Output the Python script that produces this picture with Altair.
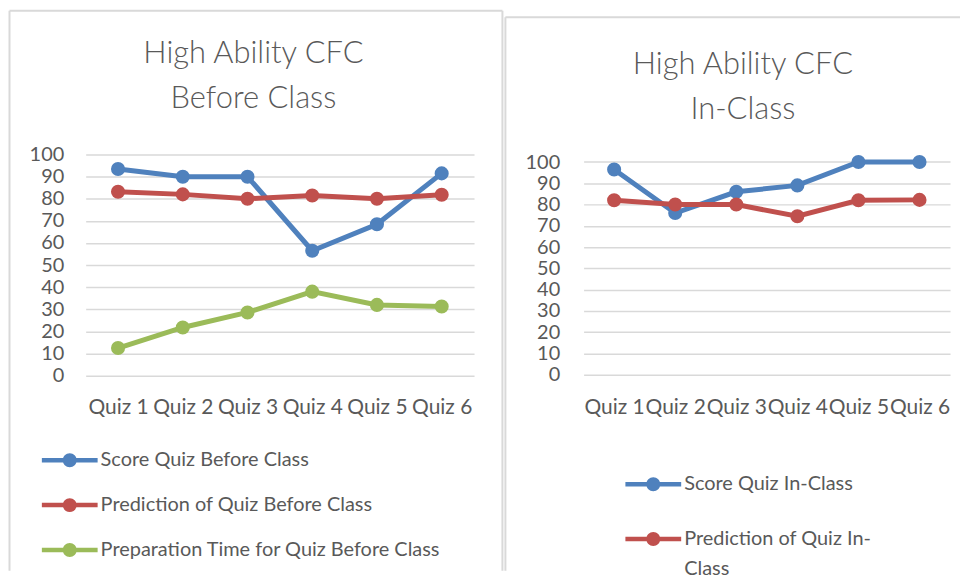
import altair as alt
import pandas as pd

quizzes = ["Quiz 1", "Quiz 2", "Quiz 3", "Quiz 4", "Quiz 5", "Quiz 6"]

before_series = [
    "Score Quiz Before Class",
    "Prediction of Quiz Before Class",
    "Preparation Time for Quiz Before Class",
]
score_before = [93.5, 90.0, 90.0, 56.5, 68.5, 91.5]
pred_before = [83.2, 82.0, 80.0, 81.5, 80.0, 81.8]
prep_before = [12.5, 21.8, 28.6, 38.0, 32.0, 31.3]

in_series = ["Score Quiz In-Class", "Prediction of Quiz In-Class"]
score_in = [96.5, 76.0, 86.0, 89.0, 100.0, 100.0]
pred_in = [82.0, 80.0, 80.0, 74.5, 82.0, 82.2]

title_before = ["High Ability CFC", "Before Class"]
title_in = ["High Ability CFC", "In-Class"]

colors = ["#4F81BD", "#C0504D", "#9BBB59"]
y_ticks = [0, 10, 20, 30, 40, 50, 60, 70, 80, 90, 100]

FONT = "Lato"
TXT = "#595959"
GRID = "#D9D9D9"
LEG_SYMBOL = "M-5.6,-0.45H5.6V0.45H-5.6Z M1.4,0A1.4,1.4,0,1,1,-1.4,0A1.4,1.4,0,1,1,1.4,0Z"


def long_df(names, lists):
    rows = []
    for name, vals in zip(names, lists):
        for q, v in zip(quizzes, vals):
            rows.append({"quiz": q, "series": name, "value": v})
    return pd.DataFrame(rows)


def one_row():
    return pd.DataFrame({"k": [0]})


def frame_rule(x, y, x2=None, y2=None):
    enc = {"x": alt.value(x), "y": alt.value(y)}
    if x2 is not None:
        enc["x2"] = alt.value(x2)
    if y2 is not None:
        enc["y2"] = alt.value(y2)
    return (
        alt.Chart(one_row())
        .mark_rule(color=GRID, strokeWidth=2)
        .encode(**enc)
    )


def title_text(lines, cx, by):
    return (
        alt.Chart(one_row())
        .mark_text(
            text=lines, font=FONT, fontSize=31, fontWeight=300, color=TXT,
            align="center", baseline="alphabetic", lineHeight=45,
        )
        .encode(x=alt.value(cx), y=alt.value(by))
    )


def panel(df, names, cols, title_lines, title_pos, w, h, ymax, ylabpad,
          xlabpad, legend, frames):
    x = alt.X(
        "quiz:N",
        sort=quizzes,
        scale=alt.Scale(type="point", padding=0.5),
        axis=alt.Axis(
            title=None, labelAngle=0, ticks=False, tickSize=0, domain=False,
            grid=False, labelFont=FONT, labelFontSize=21, labelColor=TXT,
            labelBaseline="alphabetic", labelPadding=xlabpad,
        ),
    )
    y = alt.Y(
        "value:Q",
        scale=alt.Scale(domain=[0, ymax], nice=False, zero=True),
        axis=alt.Axis(
            title=None, values=y_ticks, ticks=False, tickSize=0, domain=False,
            grid=True, gridColor=GRID, gridWidth=1.5, labelFont=FONT,
            labelFontSize=20, labelColor=TXT, labelPadding=ylabpad,
        ),
    )
    color = alt.Color(
        "series:N", scale=alt.Scale(domain=names, range=cols), legend=legend
    )
    base = alt.Chart(df).encode(x=x, y=y, color=color)
    lines = base.mark_line(strokeWidth=5)
    points = base.mark_point(filled=True, size=200, opacity=1)
    layers = [frame_rule(**f) for f in frames]
    layers += [title_text(title_lines, *title_pos), lines, points]
    return alt.layer(*layers).properties(width=w, height=h)


legend_common = dict(
    title=None, orient="none", direction="vertical", symbolType=LEG_SYMBOL,
    symbolSize=100, symbolStrokeWidth=0, labelFont=FONT, labelFontSize=20,
    labelColor=TXT, labelOffset=21, labelLimit=500,
)

left = panel(
    long_df(before_series, [score_before, pred_before, prep_before]),
    before_series, colors, title_before, (168.5, -91.5),
    390, 222, 100, 22, 38,
    alt.Legend(legendX=-26, legendY=297, rowPadding=25, **legend_common),
    [
        dict(x=-76.5, y=-144.5, y2=418),
        dict(x=-76.5, y=-144.5, x2=418.5),
        dict(x=418.5, y=-144.5, y2=418),
    ],
)

right = panel(
    long_df(in_series, [score_in, pred_in]),
    in_series, colors[:2], title_in, (160, -81),
    368, 221, 103.5, 24, 39,
    alt.Legend(
        legendX=60, legendY=321, rowPadding=35,
        labelExpr="datum.label == 'Prediction of Quiz In-Class' ? ['Prediction of Quiz In-', 'Class'] : datum.label",
        **legend_common,
    ),
    [
        dict(x=-78.5, y=-138, y2=418),
        dict(x=-78.5, y=-138, x2=378),
    ],
)

chart = (
    alt.hconcat(left, right, spacing=0)
    .resolve_scale(color="independent")
    .resolve_legend(color="independent")
    .properties(padding=0, background="white")
    .configure(style={"guide-label": {"lineHeight": 30}})
    .configure_view(stroke=None)
    .configure_concat(spacing=0)
)

chart.save("out.html", embed_options={"renderer": "svg", "actions": False})
